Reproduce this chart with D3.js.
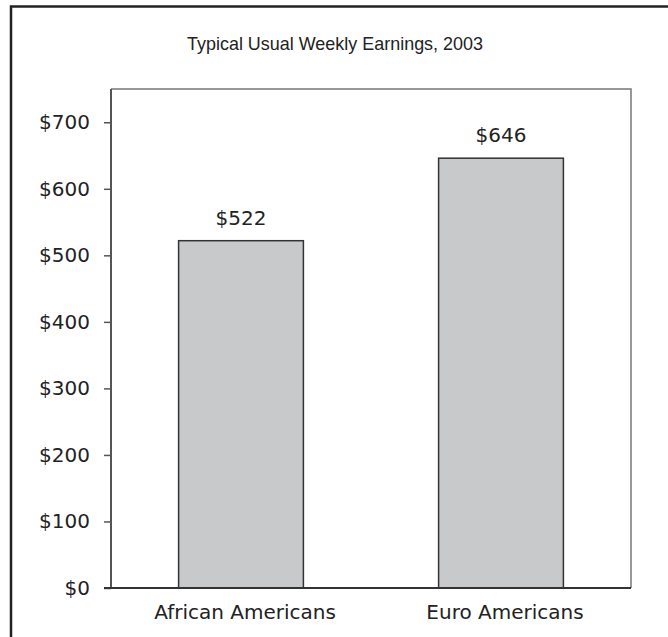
<!DOCTYPE html>
<html><head><meta charset="utf-8">
<script src="https://cdn.jsdelivr.net/npm/d3@7/dist/d3.min.js"></script>
<style>body{margin:0;background:#fff}svg{display:block}</style>
</head><body>
<script>
const title = "Typical Usual Weekly Earnings, 2003";
const categories = ["African Americans", "Euro Americans"];
const values = [522, 646];
const tickValues = [0, 100, 200, 300, 400, 500, 600, 700];
const valueLabels = ["$522", "$646"];

const W = 668, H = 637;
const svg = d3.select("body").append("svg").attr("width", W).attr("height", H);

// outer frame (top + left)
svg.append("path").attr("d", `M11,${H} L11,6.5 L${W},6.5`)
  .attr("fill", "none").attr("stroke", "#222").attr("stroke-width", 2.5);

const m = {left: 111, right: 631, top: 89, bottom: 588};
const x = d3.scaleBand().domain(categories).range([m.left, m.right]).paddingInner(0.52).paddingOuter(0.26);
const y = d3.scaleLinear().domain([0, 750]).range([m.bottom, m.top]);

const font = "'DejaVu Sans', sans-serif";

svg.append("text").attr("x", 335).attr("y", 50).attr("text-anchor", "middle")
  .attr("font-family", "'Liberation Sans', Arial, sans-serif").attr("font-size", 19)
  .attr("textLength", 296).attr("lengthAdjust", "spacingAndGlyphs")
  .attr("fill", "#222").text(title);

// plot frame top/right
svg.append("path").attr("d", `M${m.left},${m.top} L${m.right},${m.top} L${m.right},${m.bottom}`)
  .attr("fill", "none").attr("stroke", "#777").attr("stroke-width", 1.5);

// bars
svg.selectAll("rect.bar").data(values).enter().append("rect")
  .attr("x", (d, i) => x(categories[i]))
  .attr("y", d => y(d))
  .attr("width", x.bandwidth())
  .attr("height", d => y(0) - y(d))
  .attr("fill", "#c8c9cb").attr("stroke", "#333").attr("stroke-width", 1.5);

svg.selectAll("text.val").data(values).enter().append("text")
  .attr("x", (d, i) => x(categories[i]) + x.bandwidth() / 2)
  .attr("y", d => y(d) - 16)
  .attr("text-anchor", "middle").attr("font-family", font).attr("font-size", 20)
  .attr("fill", "#222").text((d, i) => valueLabels[i]);

// y axis
const yAxis = d3.axisLeft(y).tickValues(tickValues).tickSize(7).tickPadding(14)
  .tickFormat(d => "$" + d);
const gy = svg.append("g").attr("transform", `translate(${m.left},0)`).call(yAxis);
gy.select(".domain").attr("d", `M0,${m.top}V${m.bottom}`).attr("stroke", "#555").attr("stroke-width", 2);
gy.selectAll(".tick line").attr("stroke", "#555").attr("stroke-width", 1.5);
gy.selectAll(".tick text").attr("font-family", font).attr("font-size", 20).attr("fill", "#222");

// x axis
const xAxis = d3.axisBottom(x).tickSize(0).tickPadding(17);
const gx = svg.append("g").attr("transform", `translate(0,${m.bottom})`).call(xAxis);
gx.select(".domain").attr("d", `M${m.left - 7},0H${m.right}`).attr("stroke", "#333").attr("stroke-width", 2);
gx.selectAll(".tick text").attr("font-family", font).attr("font-size", 20).attr("fill", "#222").attr("dx", 4);
</script>
</body></html>
